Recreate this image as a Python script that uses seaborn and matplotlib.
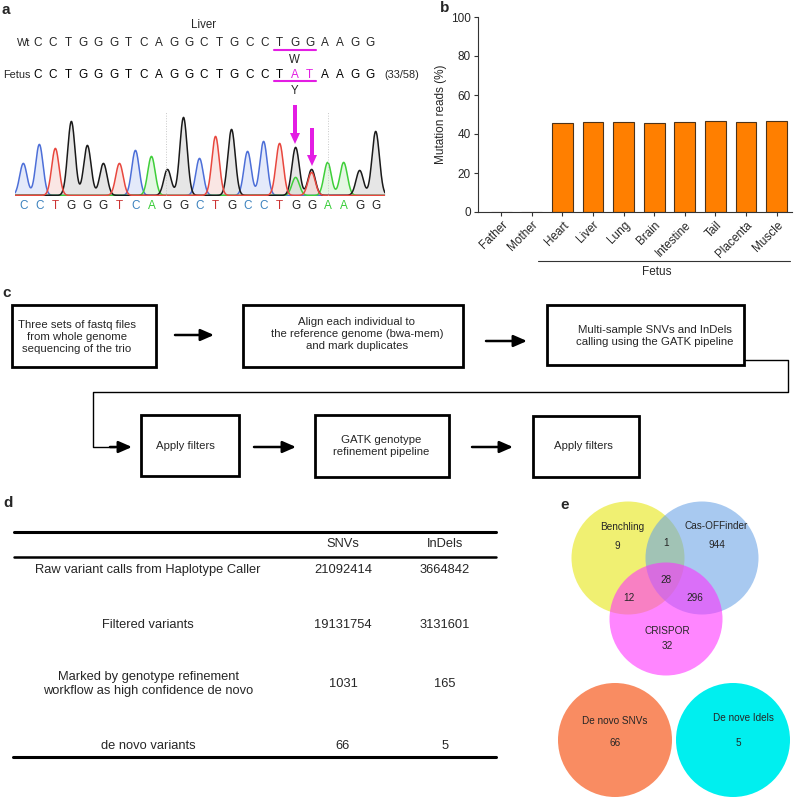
import numpy as np
import pandas as pd
import matplotlib
matplotlib.use('Agg')
from matplotlib import pyplot as plt
from matplotlib.patches import Rectangle, Circle, FancyArrow
import seaborn as sns

# ---- data ----
# panel a: Sanger sequencing of the liver sample
wt_seq = 'CCTGGGTCAGGCTGCCTGGAAGG'
fetus_seq = 'CCTGGGTCAGGCTGCCTATAAGG'
called_bases = 'CCTGGGTCAGGCTGCCTGGAAGG'
peak_heights = [32, 51, 47, 74, 50, 32, 32, 45, 39, 26, 78, 37, 59, 66, 44, 54, 52, 48, 26, 33, 33, 25, 64]
minor_pos = [17, 18]
minor_base = ['A', 'T']
minor_heights = [18, 23]

# panel b: mutation reads per sample
samples = ['Father', 'Mother', 'Heart', 'Liver', 'Lung', 'Brain', 'Intestine', 'Tail', 'Placenta', 'Muscle']
mutation_pct = [0, 0, 45.8, 46.0, 46.1, 45.6, 46.1, 46.5, 45.9, 46.6]

# panel c: pipeline steps
steps_top = ['Three sets of fastq files\nfrom whole genome\nsequencing of the trio',
             'Align each individual to\nthe reference genome (bwa-mem)\nand mark duplicates',
             'Multi-sample SNVs and InDels\ncalling using the GATK pipeline']
steps_bottom = ['Apply filters', 'GATK genotype\nrefinement pipeline', 'Apply filters']

# panel d: variant table
table_rows = ['Raw variant calls from Haplotype Caller', 'Filtered variants',
              'Marked by genotype refinement\nworkflow as high confidence de novo', 'de novo variants']
snv_counts = [21092414, 19131754, 1031, 66]
indel_counts = [3664842, 3131601, 165, 5]

# panel e: off-target prediction overlap
venn_names = ['Benchling', 'Cas-OFFinder', 'CRISPOR']
venn_only = [9, 944, 32]
venn_pairs = [1, 12, 296]   # B&C, B&CR, C&CR
venn_all = 28
denovo_names = ['De novo SNVs', 'De nove Idels']
denovo_counts = [66, 5]

# ---- figure ----
sns.set_style('white')
plt.rcParams['font.family'] = ['Liberation Sans', 'DejaVu Sans']

W = H = 798
fig = plt.figure(figsize=(7.98, 7.98), dpi=100)

def box(left, top, right, bottom):
    return [left / W, 1 - bottom / H, (right - left) / W, (bottom - top) / H]

# pixel canvas for the drawings
canvas = fig.add_axes([0, 0, 1, 1])
canvas.set_xlim(0, W)
canvas.set_ylim(H, 0)
canvas.axis('off')

for lab, x, y in [('a', 2, 10), ('b', 440, 8), ('c', 2, 293), ('d', 3, 503), ('e', 560, 505)]:
    canvas.text(x, y, lab, fontsize=11, fontweight='bold', va='center', ha='left')

# ---- panel a ----
pitch = 15.1
x0 = 38
canvas.text(204, 25, 'Liver', fontsize=8.3, ha='center', va='center')
canvas.text(30, 43, 'Wt', fontsize=7.8, ha='right', va='center')
canvas.text(30, 75, 'Fetus', fontsize=7.8, ha='right', va='center')
canvas.text(384, 75, '(33/58)', fontsize=7.8, ha='left', va='center')
for i, b in enumerate(wt_seq):
    canvas.text(x0 + i * pitch, 43, b, fontsize=8.5, ha='center', va='center')
for i, b in enumerate(fetus_seq):
    col = '#E31DE3' if b != wt_seq[i] else 'black'
    canvas.text(x0 + i * pitch, 75, b, fontsize=8.5, ha='center', va='center', color=col)
canvas.plot([x0 + 16 * pitch - 6, x0 + 18 * pitch + 6], [50, 50], color='#E31DE3', lw=1.5)
canvas.plot([x0 + 16 * pitch - 6, x0 + 18 * pitch + 6], [81, 81], color='#E31DE3', lw=1.5)
canvas.text(x0 + 17 * pitch, 60, 'W', fontsize=8.3, ha='center', va='center')
canvas.text(x0 + 17 * pitch, 91, 'Y', fontsize=8.3, ha='center', va='center')

ax_a = fig.add_axes(box(15, 100, 385, 196))
ax_a.set_xlim(-0.52, 22.58)
ax_a.set_ylim(0, 96)
ax_a.axis('off')
ax_a.patch.set_alpha(0)

trace_col = {'C': '#4D6FD8', 'A': '#3FCF3A', 'G': '#1A1A1A', 'T': '#E8473E'}
fill_col = {'C': '#D3DDF7', 'A': '#D5F2D3', 'G': '#D6D6D6', 'T': '#F7D6D2'}
base_col = {'C': '#3C82BE', 'A': '#36CC36', 'G': '#222222', 'T': '#CC3333'}
xs = np.linspace(-0.52, 22.58, 1500)
sigma = 0.23
traces = {}
for ch in 'CAGT':
    y = np.zeros_like(xs)
    for i, (b, h) in enumerate(zip(called_bases, peak_heights)):
        if b == ch:
            y += h * np.exp(-(xs - i) ** 2 / (2 * sigma ** 2))
    for p, b, h in zip(minor_pos, minor_base, minor_heights):
        if b == ch:
            y += h * np.exp(-(xs - p) ** 2 / (2 * sigma ** 2))
    traces[ch] = y + 0.6
for ch in 'CAGT':
    ax_a.fill_between(xs, 0.6, traces[ch], color=fill_col[ch], alpha=0.6, lw=0)
for ch in 'CAGT':
    sns.lineplot(x=xs, y=traces[ch], color=trace_col[ch], lw=1.1, ax=ax_a)
for xv in [8.9, 19.0]:
    ax_a.plot([xv, xv], [0, 84], color='#C8C8C8', lw=0.7, ls=':')
for i, b in enumerate(called_bases):
    ax_a.text(i, -10, b, fontsize=8.5, ha='center', va='center', color=base_col[b], clip_on=False)

for x, y0, y1 in [(295, 105, 144), (312, 128, 166)]:
    canvas.add_patch(FancyArrow(x, y0, 0, y1 - y0, width=4, head_width=10, head_length=11,
                                length_includes_head=True, color='#E31DE3', lw=0))

# ---- panel b ----
ax_b = fig.add_axes(box(478, 17, 792, 212))
bar_df = pd.DataFrame({'sample': samples, 'pct': mutation_pct})
sns.barplot(data=bar_df, x='sample', y='pct', color='#FF7F00', saturation=1,
            edgecolor='#4D3319', linewidth=0.8, width=0.68, ax=ax_b)
ax_b.set_xlim(-0.76, 9.5)
ax_b.set_ylim(0, 100)
ax_b.set_yticks(range(0, 101, 20))
ax_b.set_xlabel('')
ax_b.set_ylabel('Mutation reads (%)', fontsize=8.5, labelpad=3)
ax_b.tick_params(axis='both', labelsize=8.5, length=3, width=0.8, color='#333333', pad=2,
                 left=True, bottom=True)
plt.setp(ax_b.get_xticklabels(), rotation=45, ha='right', rotation_mode='anchor')
sns.despine(ax=ax_b)
for s in ['left', 'bottom']:
    ax_b.spines[s].set_color('#333333')
    ax_b.spines[s].set_linewidth(0.8)
ax_b.patch.set_alpha(0)
canvas.plot([538, 790], [261, 261], color='#333333', lw=0.8)
canvas.text(657, 272, 'Fetus', fontsize=8.5, ha='center', va='center')

# ---- panel c ----
top_boxes = [(12, 305, 156, 367), (243, 305, 463, 367), (547, 305, 744, 365)]
top_text_x = [77, 357, 655]
top_text_y = [337, 334, 336]
bottom_boxes = [(141, 415, 239, 476), (315, 415, 449, 477), (533, 416, 639, 477)]
bottom_text_x = [185, 381, 583]
for (l, t, r, b), txt, tx, ty in zip(top_boxes, steps_top, top_text_x, top_text_y):
    canvas.add_patch(Rectangle((l, t), r - l, b - t, fill=False, lw=2, ec='black'))
    canvas.text(tx, ty, txt, fontsize=8.2, ha='center', va='center', linespacing=1.2)
for (l, t, r, b), txt, tx in zip(bottom_boxes, steps_bottom, bottom_text_x):
    canvas.add_patch(Rectangle((l, t), r - l, b - t, fill=False, lw=2, ec='black'))
    canvas.text(tx, 446, txt, fontsize=8.2, ha='center', va='center', linespacing=1.2)

def arrow(xa, xb, y):
    canvas.annotate('', xy=(xb, y), xytext=(xa, y),
                    arrowprops=dict(arrowstyle='-|>,head_length=0.8,head_width=0.35',
                                    color='black', lw=1.8, shrinkA=0, shrinkB=0))

arrow(175, 214, 335)
arrow(486, 527, 341)
arrow(254, 296, 447)
arrow(472, 513, 447)
canvas.plot([744, 788, 788, 93, 93, 115], [360, 360, 392, 392, 447, 447], color='black', lw=1)
arrow(110, 132, 447)

# ---- panel d ----
canvas.plot([14, 496], [532, 532], color='black', lw=2.2)
canvas.plot([14, 496], [557, 557], color='black', lw=1.8)
canvas.plot([13, 496], [757, 757], color='black', lw=2.2)
canvas.text(343, 544, 'SNVs', fontsize=9.3, ha='center', va='center')
canvas.text(445, 544, 'InDels', fontsize=9.3, ha='center', va='center')
row_y = [570, 625, 684, 746]
for lab, snv, ind, y in zip(table_rows, snv_counts, indel_counts, row_y):
    canvas.text(148, y, lab, fontsize=9.3, ha='center', va='center', linespacing=1.25)
    canvas.text(343, y, str(snv), fontsize=9.3, ha='center', va='center')
    canvas.text(445, y, str(ind), fontsize=9.3, ha='center', va='center')

# ---- panel e ----
venn_centres = [(628, 558), (702, 558), (666, 619)]
venn_colors = ['#E6E60D', '#69A3E6', '#FF2FFF']
for (cx, cy), col in zip(venn_centres, venn_colors):
    canvas.add_patch(Circle((cx, cy), 56.5, color=col, alpha=0.58, lw=0))
canvas.text(622, 527, venn_names[0], fontsize=7.2, ha='center', va='center')
canvas.text(716, 526, venn_names[1], fontsize=7.2, ha='center', va='center')
canvas.text(667, 631, venn_names[2], fontsize=7.2, ha='center', va='center')
canvas.text(617, 546, str(venn_only[0]), fontsize=7.2, ha='center', va='center')
canvas.text(717, 545, str(venn_only[1]), fontsize=7.2, ha='center', va='center')
canvas.text(667, 646, str(venn_only[2]), fontsize=7.2, ha='center', va='center')
canvas.text(666, 543, str(venn_pairs[0]), fontsize=7.2, ha='center', va='center')
canvas.text(629, 598, str(venn_pairs[1]), fontsize=7.2, ha='center', va='center')
canvas.text(695, 598, str(venn_pairs[2]), fontsize=7.2, ha='center', va='center')
canvas.text(666, 580, str(venn_all), fontsize=7.2, ha='center', va='center')

denovo_centres = [(615, 740), (733, 740)]
denovo_colors = ['#F98C62', '#00EFEF']
name_pos = [(615, 721), (743, 718)]
count_pos = [(615, 743), (738, 743)]
for (cx, cy), col, name, n, npos, cpos in zip(denovo_centres, denovo_colors, denovo_names,
                                              denovo_counts, name_pos, count_pos):
    canvas.add_patch(Circle((cx, cy), 57, color=col, lw=0))
    canvas.text(*npos, name, fontsize=7.2, ha='center', va='center')
    canvas.text(*cpos, str(n), fontsize=7.2, ha='center', va='center')

plt.savefig('out.png', dpi=100)
